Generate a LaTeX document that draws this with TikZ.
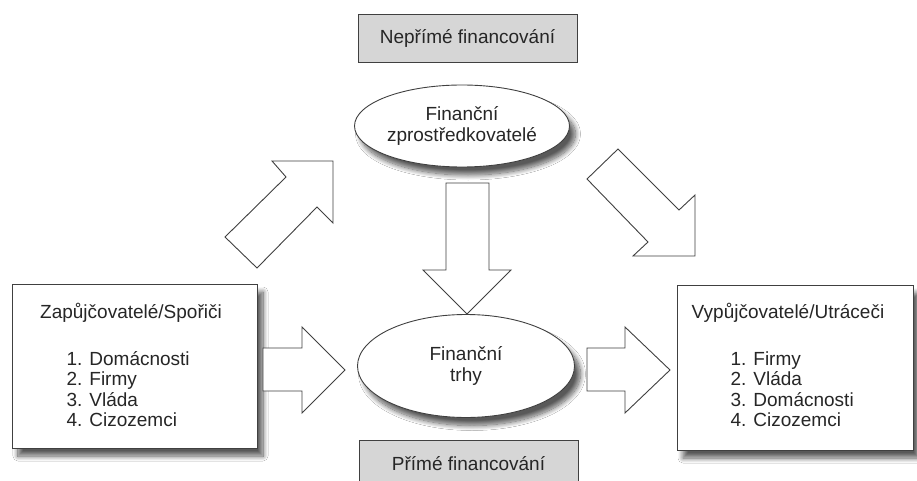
\documentclass[tikz,border=0pt]{standalone}
\usepackage{fontspec}
\setmainfont{Liberation Sans}
\usetikzlibrary{shapes.geometric,shadows.blur}
\begin{document}
\begin{tikzpicture}[x=1pt,y=-1pt,
  every node/.style={font=\fontsize{19}{20.5}\selectfont, text=black!85},
  line/.style={draw=black!75, line width=0.9pt},
  shd/.style={blur shadow={shadow xshift=6pt,shadow yshift=-8pt,shadow opacity=65,shadow blur steps=12,shadow blur radius=5pt}},
  labelbox/.style={line, fill=black!16, minimum width=219pt, minimum height=48pt, inner sep=0pt},
  bigbox/.style={line, fill=white, shd, inner sep=0pt},
  oval/.style={ellipse, line, fill=white, shd, inner sep=0pt, align=center},
  blockarrow/.style={line, fill=white, line join=miter}
]
\useasboundingbox (0,0) rectangle (917,481);
\fill[white] (0,0) rectangle (917,481);

\node[labelbox] (nepr) at (467.5,38) {Nepřímé financování};
\node[labelbox] (prime) at (468.5,464) {Přímé financování};

\node[bigbox, minimum width=245pt, minimum height=164pt] (leftbox) at (134.5,366) {};
\node[bigbox, minimum width=236pt, minimum height=165pt] (rightbox) at (795,367.5) {};

\node (lt) at (131,313) {Zapůjčovatelé/Spořiči};
\node[anchor=west, align=left] (ll) at (63,389) {1. Domácnosti\\2. Firmy\\3. Vláda\\4. Cizozemci};
\node (rt) at (788,313) {Vypůjčovatelé/Utráceči};
\node[anchor=west, align=left] (rl) at (727,389) {1. Firmy\\2. Vláda\\3. Domácnosti\\4. Cizozemci};

\node[oval, minimum width=215pt, minimum height=82pt] (zpro) at (462,126) {Finanční\\zprostředkovatelé};
\node[oval, minimum width=217pt, minimum height=103pt] (trhy) at (466,366) {Finanční\\trhy};

% block arrows
\draw[blockarrow] (263,348) -- (302,348) -- (302,327) -- (345,370) -- (302,413) -- (302,391) -- (263,391) -- cycle;
\draw[blockarrow] (587,348) -- (625,348) -- (625,327) -- (670,370) -- (625,413) -- (625,391) -- (587,391) -- cycle;
\draw[blockarrow] (446,183) -- (489,183) -- (489,270) -- (511,270) -- (467,314) -- (423,270) -- (446,270) -- cycle;
\draw[blockarrow] (333,161) -- (333,223) -- (317,207) -- (257,268) -- (225,237) -- (286,177) -- (272,161) -- cycle;
\draw[blockarrow] (695,256) -- (633,256) -- (648,242) -- (587,179) -- (618,149) -- (679,210) -- (695,195) -- cycle;
\end{tikzpicture}
\end{document}
